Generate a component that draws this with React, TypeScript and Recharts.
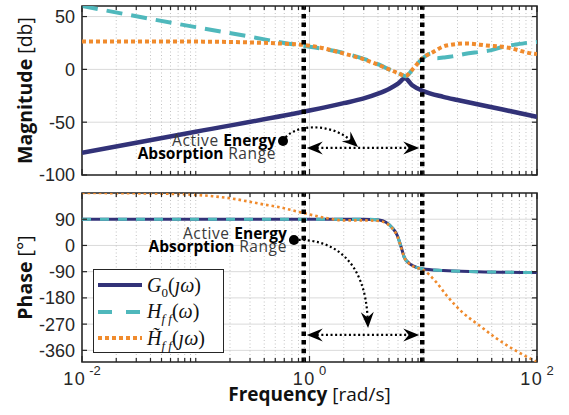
import React from "react";
import { LineChart, Line, XAxis, YAxis, CartesianGrid, ReferenceLine, ReferenceDot, ReferenceArea } from "recharts";

type Pt = [number, number];

// frequency axis [rad/s]
const FREQ_LABELS = [0.01, 1, 100];
const FREQ_TICKS = [
  0.01, 0.02, 0.03, 0.04, 0.05, 0.06, 0.07, 0.08, 0.09,
  0.1, 0.2, 0.3, 0.4, 0.5, 0.6, 0.7, 0.8, 0.9,
  1, 2, 3, 4, 5, 6, 7, 8, 9,
  10, 20, 30, 40, 50, 60, 70, 80, 90, 100,
];
const FREQ_MINOR = FREQ_TICKS.filter((f) => !FREQ_LABELS.includes(f));
const MAG_TICKS = [-100, -50, 0, 50];
const PHASE_TICKS = [-360, -270, -180, -90, 0, 90];
const BAND = [0.89, 9.8];

// magnitude [db]
const g0Mag: Pt[] = [
  [0.01, -79], [0.1, -59], [1, -39], [2, -32], [3, -27.5], [4, -23], [5, -18.5],
  [6, -13.5], [6.9, -8.5], [8, -15], [10, -20.5], [15, -26], [20, -29], [30, -33],
  [50, -38], [100, -45],
];
const hffMag: Pt[] = [
  [0.01, 60], [0.1, 40], [0.3, 31], [0.6, 25], [1, 21.5], [2, 15.5], [3, 10], [4.1, 4.5],
  [5, 0], [6, -3.5], [7, -6.5], [8.2, 1], [9.8, 10], [11.8, 15], [13.3, 10.5], [15, 11.2],
  [18, 12.3], [23, 14.5], [31, 16.5], [39, 18], [51, 21.5], [65, 23.5], [88, 25.5], [100, 26],
];
const hffTildeMag: Pt[] = [
  [0.01, 26.5], [0.1, 26.3], [0.3, 25.5], [0.55, 24.5], [1, 22.5], [2, 15], [3, 9.5],
  [4.1, 4], [5, 0], [6, -3.5], [7, -6], [8.2, 1], [9.8, 10.4], [12, 16], [16, 22.6],
  [24, 24.5], [36, 22.6], [54, 20.8], [91, 15], [100, 14.5],
];

// phase [deg]
const g0Phase: Pt[] = [
  [0.01, 90], [3, 90], [4.1, 87], [5.3, 62], [5.9, 35], [6.4, -6], [6.8, -40], [7.5, -61],
  [8.7, -75], [9.8, -80], [15, -86], [30, -90], [100, -93],
];
const hffPhase: Pt[] = [
  [0.01, 90], [3, 90], [4.1, 87], [5.3, 62], [5.9, 35], [6.4, -6], [6.8, -40], [7.5, -61],
  [8.7, -75], [9.8, -80], [15, -86], [30, -90], [100, -93],
];
const hffTildePhase: Pt[] = [
  [0.01, 180], [0.03, 179], [0.072, 176], [0.14, 169], [0.2, 162], [0.28, 152], [0.39, 141],
  [0.55, 131], [0.77, 117], [1.06, 104], [1.5, 92], [2, 86], [3, 86], [4.1, 84], [5.3, 60],
  [5.9, 33], [6.4, -8], [6.8, -40], [7.5, -62], [8.7, -76], [9.8, -82], [13, -126],
  [16, -171], [22, -229], [31, -274], [44, -319], [60, -353], [100, -400],
];

const NAVY = "#323278";
const TEAL = "#4fb8bc";
const ORANGE = "#f08b2d";
const AXIS = "#262626";
const SANS = "'Liberation Sans', Arial, sans-serif";
const TITLE = "'Open Sans', sans-serif";
const PLOT_RIGHT = 537;

const pts = (a: Pt[]) => a.map(([w, v]) => ({ w, v }));

function FreqTick(props: any) {
  const { x, y, payload, top, labels } = props;
  const v = payload.value;
  const major = FREQ_LABELS.includes(v);
  const len = major ? 6 : 4;
  return (
    <g>
      <line x1={x} x2={x} y1={y} y2={y - len} stroke={AXIS} strokeWidth={1.2} />
      <line x1={x} x2={x} y1={top} y2={top + len} stroke={AXIS} strokeWidth={1.2} />
      {labels && major && (
        <text x={x} y={y + 23} textAnchor="middle" fontFamily={SANS} fontSize={18} fill={AXIS} letterSpacing={1.5}>
          <tspan>10</tspan>
          <tspan dx={3} dy={-10} fontSize={13} letterSpacing={0}>{Math.round(Math.log10(v))}</tspan>
        </text>
      )}
    </g>
  );
}

function ValTick(props: any) {
  const { x, y, payload } = props;
  return (
    <g>
      <text x={x - 7} y={y} dy="0.36em" textAnchor="end" fontFamily={SANS} fontSize={18} fill={AXIS}>
        {payload.value}
      </text>
      <line x1={x} x2={x + 5} y1={y} y2={y} stroke={AXIS} strokeWidth={1.2} />
      <line x1={PLOT_RIGHT - 5} x2={PLOT_RIGHT} y1={y} y2={y} stroke={AXIS} strokeWidth={1.2} />
    </g>
  );
}

function yTitle(bold: string, rest: string) {
  return (props: any) => {
    const vb = props.viewBox || { x: 0, y: 0, width: 82, height: 170 };
    const cy = vb.y + vb.height / 2;
    return (
      <text x={32} y={cy} transform={`rotate(-90, 32, ${cy})`} textAnchor="middle" fontFamily={TITLE} fontSize={19.5} fill="#111">
        <tspan fontWeight="bold">{bold}</tspan> {rest}
      </text>
    );
  };
}

function xTitle(props: any) {
  const vb = props.viewBox || { x: 82, y: 177, width: 455, height: 53 };
  return (
    <text x={vb.x + vb.width / 2} y={vb.y + 39} textAnchor="middle" fontFamily={TITLE} fontSize={19} fill="#111">
      <tspan fontWeight="bold">Frequency</tspan> [rad/s]
    </text>
  );
}

const head = (x: number, y: number, ang: number) => {
  const c = Math.cos(ang);
  const s = Math.sin(ang);
  const p = (dx: number, dy: number) => `${x + dx * c - dy * s},${y + dx * s + dy * c}`;
  return <path d={`M${p(0, 0)} L${p(-16, -6.5)} L${p(-10.5, 0)} L${p(-16, 6.5)} Z`} fill="#000" />;
};

function DoubleArrow(props: any) {
  const { x1, y1, x2, y2 } = props;
  const a = x1 + 3;
  const b = x2 - 3;
  return (
    <g>
      <line x1={a + 10} x2={b - 10} y1={y1} y2={y2} stroke="#000" strokeWidth={2.2} strokeDasharray="2 2.6" />
      {head(a, y1, Math.PI)}
      {head(b, y2, 0)}
    </g>
  );
}

function curveArrow(c1dx: number, c1dy: number, c2dx: number, c2dy: number) {
  return (props: any) => {
    const { x1, y1, x2, y2 } = props;
    const cx1 = x1 + c1dx;
    const cy1 = y1 + c1dy;
    const cx2 = x2 + c2dx;
    const cy2 = y2 + c2dy;
    const ang = Math.atan2(y2 - cy2, x2 - cx2);
    const ex = x2 - Math.cos(ang) * 10;
    const ey = y2 - Math.sin(ang) * 10;
    return (
      <g>
        <path d={`M${x1},${y1} C${cx1},${cy1} ${cx2},${cy2} ${ex},${ey}`} fill="none" stroke="#000" strokeWidth={2.2} strokeDasharray="2 2.6" />
        {head(x2, y2, ang)}
      </g>
    );
  };
}

function annotation(dy1: number, dy2: number) {
  return (props: any) => {
    const { cx, cy } = props;
    return (
      <g>
        <circle cx={cx} cy={cy} r={5} fill="#000" />
        <text x={cx - 7} y={cy + dy1} textAnchor="end" fontFamily={TITLE} fontSize={15.5} fill="#3a3a3a">
          <tspan letterSpacing={0.6}>Active </tspan><tspan fontWeight="bold" fill="#000">Energy</tspan>
        </text>
        <text x={cx - 7} y={cy + dy2} textAnchor="end" fontFamily={TITLE} fontSize={15.5} fill="#3a3a3a">
          <tspan fontWeight="bold" fill="#000">Absorption</tspan><tspan letterSpacing={0.6}> Range</tspan>
        </text>
      </g>
    );
  };
}

const axisX = (top: number, labels: boolean, height: number, withTitle: boolean) => (
  <XAxis
    dataKey="w"
    type="number"
    scale="log"
    domain={[0.01, 100]}
    allowDataOverflow
    ticks={FREQ_TICKS}
    interval={0}
    height={height}
    tickSize={0}
    tickMargin={0}
    axisLine={false}
    tickLine={false}
    tick={(p: any) => <FreqTick {...p} top={top} labels={labels} />}
    label={withTitle ? { content: xTitle } : undefined}
  />
);

const mathStyle: React.CSSProperties = { fontFamily: "'Liberation Serif', 'DejaVu Serif', serif", fontSize: 20, color: "#111" };
const sub: React.CSSProperties = { fontSize: 13, position: "relative", top: 5 };

function LegendBox() {
  const rows = [
    { color: NAVY, dash: undefined, label: (<><i>G</i><span style={sub}>0</span>(<i>ȷω</i>)</>) },
    { color: TEAL, dash: "14 14", label: (<><i>H</i><i style={sub}>f f</i>(<i>ω</i>)</>) },
    { color: ORANGE, dash: "4 3", label: (<><i>H̃</i><i style={sub}>f f</i>(<i>ȷω</i>)</>) },
  ];
  return (
    <div style={{ position: "absolute", left: 93, top: 269, width: 131, height: 84, boxSizing: "border-box", border: `1.6px solid ${AXIS}`, background: "#fff" }}>
      {rows.map((r, i) => (
        <div key={i} style={{ position: "absolute", left: 4, top: 3 + i * 26.5, height: 24, display: "flex", alignItems: "center", whiteSpace: "nowrap" }}>
          <svg width={46} height={10} style={{ marginRight: 3 }}>
            <line x1={0} x2={44} y1={5} y2={5} stroke={r.color} strokeWidth={4} strokeDasharray={r.dash} />
          </svg>
          <span style={mathStyle}>{r.label}</span>
        </div>
      ))}
    </div>
  );
}

export default function App() {
  return (
    <div style={{ position: "absolute", left: 0, top: 0, width: 569, height: 415, background: "#fff", overflow: "hidden" }}>
      <div style={{ position: "absolute", left: 0, top: 0 }}>
        <LineChart width={569} height={185} margin={{ top: 6, right: 32, bottom: 0, left: 0 }}>
          <CartesianGrid stroke="#dadada" strokeWidth={1} verticalValues={[1]} />
          <CartesianGrid stroke="#c2c2c2" strokeWidth={1} strokeDasharray="1 2.5" horizontal={false} verticalValues={FREQ_MINOR} />
          {axisX(6, false, 10, false)}
          <YAxis
            type="number"
            domain={[-100, 60]}
            allowDataOverflow
            ticks={MAG_TICKS}
            interval={0}
            width={82}
            tickSize={0}
            tickMargin={0}
            axisLine={false}
            tickLine={false}
            tick={(p: any) => <ValTick {...p} />}
            label={{ content: yTitle("Magnitude", "[db]") }}
          />
          <Line data={pts(g0Mag)} dataKey="v" type="monotone" stroke={NAVY} strokeWidth={4.5} dot={false} isAnimationActive={false} />
          <Line data={pts(hffMag)} dataKey="v" type="monotone" stroke={TEAL} strokeWidth={4} strokeDasharray="16 9" dot={false} isAnimationActive={false} />
          <Line data={pts(hffTildeMag)} dataKey="v" type="monotone" stroke={ORANGE} strokeWidth={4} strokeDasharray="4 3" dot={false} isAnimationActive={false} />
          <ReferenceLine x={BAND[0]} stroke="#000" strokeWidth={4.5} strokeDasharray="4.5 4.2" />
          <ReferenceLine x={BAND[1]} stroke="#000" strokeWidth={4.5} strokeDasharray="4.5 4.2" />
          <ReferenceLine segment={[{ x: BAND[0], y: -74.4 }, { x: BAND[1], y: -74.4 }]} shape={DoubleArrow} />
          <ReferenceLine segment={[{ x: 0.585, y: -67.8 }, { x: 2.67, y: -73.5 }]} shape={curveArrow(9, -17, -28, -25)} />
          <ReferenceDot x={0.585} y={-67.8} r={5} shape={annotation(5, 18)} />
          <ReferenceArea x1={0.01} x2={100} y1={-100} y2={60} fill="none" stroke={AXIS} strokeWidth={1.6} ifOverflow="visible" />
        </LineChart>
      </div>
      <div style={{ position: "absolute", left: 0, top: 185 }}>
        <LineChart width={569} height={230} margin={{ top: 8, right: 32, bottom: 0, left: 0 }}>
          <CartesianGrid stroke="#dadada" strokeWidth={1} verticalValues={[1]} />
          <CartesianGrid stroke="#c2c2c2" strokeWidth={1} strokeDasharray="1 2.5" horizontal={false} verticalValues={FREQ_MINOR} />
          {axisX(8, true, 53, true)}
          <YAxis
            type="number"
            domain={[-400, 180]}
            allowDataOverflow
            ticks={PHASE_TICKS}
            interval={0}
            width={82}
            tickSize={0}
            tickMargin={0}
            axisLine={false}
            tickLine={false}
            tick={(p: any) => <ValTick {...p} />}
            label={{ content: yTitle("Phase", "[°]") }}
          />
          <Line data={pts(g0Phase)} dataKey="v" type="monotone" stroke={NAVY} strokeWidth={3} dot={false} isAnimationActive={false} />
          <Line data={pts(hffPhase)} dataKey="v" type="monotone" stroke={TEAL} strokeWidth={3} strokeDasharray="9 9" dot={false} isAnimationActive={false} />
          <Line data={pts(hffTildePhase)} dataKey="v" type="monotone" stroke={ORANGE} strokeWidth={2.6} strokeDasharray="2.6 3" dot={false} isAnimationActive={false} />
          <ReferenceLine x={BAND[0]} stroke="#000" strokeWidth={4.5} strokeDasharray="4.5 4.2" />
          <ReferenceLine x={BAND[1]} stroke="#000" strokeWidth={4.5} strokeDasharray="4.5 4.2" />
          <ReferenceLine segment={[{ x: BAND[0], y: -307 }, { x: BAND[1], y: -307 }]} shape={DoubleArrow} />
          <ReferenceLine segment={[{ x: 0.73, y: 18.7 }, { x: 3.27, y: -283 }]} shape={curveArrow(41, -2, -3, -66)} />
          <ReferenceDot x={0.73} y={18.7} r={5} shape={annotation(-1, 12.5)} />
          <ReferenceArea x1={0.01} x2={100} y1={-400} y2={180} fill="none" stroke={AXIS} strokeWidth={1.6} ifOverflow="visible" />
        </LineChart>
      </div>
      <LegendBox />
    </div>
  );
}
